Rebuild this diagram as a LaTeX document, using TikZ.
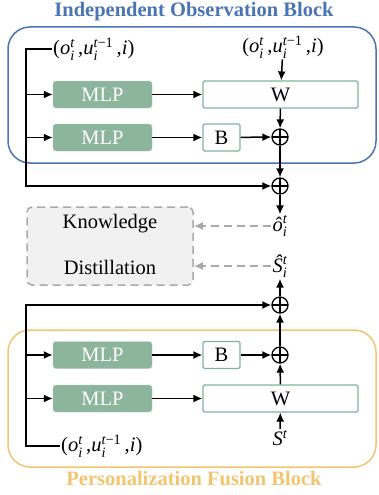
\documentclass[tikz,border=0pt]{standalone}
\usepackage{amsmath}
\usepackage{fontspec}
\setmainfont{Liberation Serif}
\usepackage{xcolor}
\usepackage{tikz}
\usetikzlibrary{arrows.meta}
\definecolor{obsblue}{HTML}{4A74B4}
\definecolor{fusorange}{HTML}{F2C46E}
\definecolor{mlpgreen}{HTML}{8CB59C}
\definecolor{boxgreen}{HTML}{7FB59A}
\definecolor{kdgray}{HTML}{AAAAAA}
\definecolor{kdfill}{HTML}{F1F1F1}
\newcommand{\vr}[1]{\textit{#1}}
\newcommand{\obsin}{(\vr{o}$_{\vr{i}}^{\vr{t}}$\,,\vr{u}$_{\vr{i}}^{\text{\itshape t\upshape −1}}$\,,\vr{i})}

\begin{document}
\begin{tikzpicture}[x=1pt,y=-1pt,font=\fontsize{20.5}{24}\selectfont,
    mlp/.style={rounded corners=3pt,fill=mlpgreen,draw=mlpgreen!70!white,text=white,minimum width=99pt,minimum height=27pt,inner sep=0pt},
    wbox/.style={draw=boxgreen,line width=1.2pt,fill=white,minimum height=27pt,inner sep=0pt,rounded corners=1.5pt},
    oplus/.style={circle,draw,line width=1.3pt,minimum size=16pt,inner sep=0pt,
      path picture={\draw[line width=1.3pt] (path picture bounding box.north) -- (path picture bounding box.south)
        (path picture bounding box.west) -- (path picture bounding box.east);}},
    arr/.style={-{Latex[length=9pt,width=8pt]},line width=1.5pt},
    kdarr/.style={-{Latex[length=9pt,width=8pt]},kdgray,line width=1.5pt,dash pattern=on 8pt off 5pt}]
    \useasboundingbox (0,0) rectangle (378,495);
    \draw[obsblue,line width=1.5pt,rounded corners=22pt] (8,27) rectangle (376,163);
    \draw[fusorange,line width=1.5pt,rounded corners=22pt] (8,330) rectangle (376,467);
    \node[font=\fontsize{20.5}{24}\selectfont\bfseries,text=obsblue] (tobs) at (194,12) {Independent Observation Block};
    \node[font=\fontsize{20.5}{24}\selectfont\bfseries,text=fusorange] (tfus) at (194,479) {Personalization Fusion Block};
    \node[inner sep=1pt,anchor=west] (in1) at (52,49) {\obsin};
    \node[inner sep=1pt] (in2) at (283,47) {\obsin};
    \node[inner sep=1pt,anchor=west] (in3) at (60,446) {\obsin};
    \node[mlp] (mlpa) at (102.5,94.5) {MLP};
    \node[mlp] (mlpb) at (102.5,137.5) {MLP};
    \node[mlp] (mlpc) at (102.5,355) {MLP};
    \node[mlp] (mlpd) at (102.5,398.5) {MLP};
    \node[wbox,minimum width=155pt] (wa) at (280.5,94.5) {W};
    \node[wbox,minimum width=37pt] (ba) at (221.5,137.5) {B};
    \node[wbox,minimum width=37pt] (bb) at (221.5,355) {B};
    \node[wbox,minimum width=155pt] (wb) at (280.5,398.5) {W};
    \node[oplus] (op1) at (280,137) {};
    \node[oplus] (op2) at (280,186) {};
    \node[oplus] (op3) at (280,305) {};
    \node[oplus] (op4) at (280,355) {};
    \node[inner sep=1pt] (oh) at (280,226) {\vr{ô}$_{\vr{i}}^{\vr{t}}$};
    \node[inner sep=1pt] (sh) at (280,266) {\vr{\^S}$_{\vr{i}}^{\vr{t}}$};
    \node[inner sep=1pt] (st) at (280,438) {\vr{S}$^{\vr{t}}$};
    \node[draw=kdgray,fill=kdfill,line width=1.5pt,dash pattern=on 8pt off 5pt,rounded corners=5pt,minimum width=166pt,minimum height=78pt] (kd) at (110,246) {};
    \node (kn) at (110,224) {Knowledge};
    \node (ds) at (110,267) {Distillation};
    \coordinate (sp) at (26,0);
    \draw[arr] (in1.west) -- (in1.west -| sp) |- (op2.west);
    \draw[arr] (mlpa.west -| sp) -- (mlpa);
    \draw[arr] (mlpb.west -| sp) -- (mlpb);
    \draw[arr] (in2) -- (wa);
    \draw[arr] (mlpa) -- (wa);
    \draw[arr] (mlpb) -- (ba);
    \draw[arr] (ba) -- (op1);
    \draw[arr] (wa) -- (op1);
    \draw[arr] (op1) -- (op2);
    \draw[arr] (op2) -- (oh);
    \draw[kdarr] (oh.west) -- (oh.west -| kd.east);
    \draw[kdarr] (sh.west) -- (sh.west -| kd.east);
    \draw[arr] (in3.west) -- (in3.west -| sp) |- (op3.west);
    \draw[arr] (op3) -- (sh);
    \draw[arr] (mlpc.west -| sp) -- (mlpc);
    \draw[arr] (mlpd.west -| sp) -- (mlpd);
    \draw[arr] (mlpc) -- (bb);
    \draw[arr] (mlpd) -- (wb);
    \draw[arr] (bb) -- (op4);
    \draw[arr] (wb) -- (op4);
    \draw[arr] (op4) -- (op3);
    \draw[arr] (st) -- (wb);
\end{tikzpicture}
\end{document}
